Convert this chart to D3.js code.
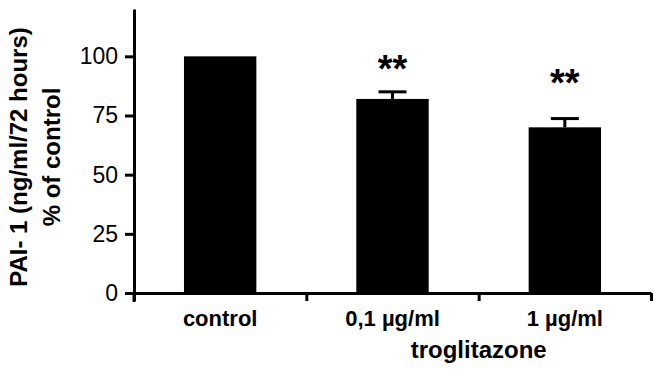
<!DOCTYPE html>
<html>
<head>
<meta charset="utf-8">
<script src="https://cdn.jsdelivr.net/npm/d3@7"></script>
<style>
  body { margin: 0; background: #fff; }
  svg { display: block; }
  text { font-family: "Liberation Sans", Arial, Helvetica, sans-serif; fill: #000; }
</style>
</head>
<body>
<div id="chart"></div>
<script>
// values
const categories = ['control', '0,1 µg/ml', '1 µg/ml'];
const means = [100, 82, 70];
const errors = [0, 3, 3.7];
const stars = ['', '**', '**'];
const starLevels = [0, 93, 87];
const yTicks = [0, 25, 50, 75, 100];

const width = 653;
const height = 376;
const margin = { top: 9, right: 2, bottom: 83, left: 134 };

const svg = d3.select('#chart').append('svg')
  .attr('width', width)
  .attr('height', height);

const x = d3.scaleBand()
  .domain(categories)
  .range([margin.left, width - margin.right])
  .paddingInner(0.58)
  .paddingOuter(0.29);

const xEdges = d3.scaleLinear()
  .domain([0, categories.length])
  .range([margin.left, width - margin.right]);

const y = d3.scaleLinear()
  .domain([0, 120])
  .range([height - margin.bottom, margin.top]);

// bars
svg.append('g')
  .selectAll('rect')
  .data(means)
  .enter()
  .append('rect')
  .attr('x', (d, i) => x(categories[i]))
  .attr('y', d => y(d))
  .attr('width', x.bandwidth())
  .attr('height', d => y(0) - y(d))
  .attr('fill', '#000');

// error bars (upper only)
const err = svg.append('g').attr('stroke', '#000').attr('stroke-width', 3);
means.forEach((m, i) => {
  if (!errors[i]) return;
  const cx = x(categories[i]) + x.bandwidth() / 2;
  err.append('line')
    .attr('x1', cx).attr('x2', cx)
    .attr('y1', y(m)).attr('y2', y(m + errors[i]));
  err.append('line')
    .attr('x1', cx - 14).attr('x2', cx + 14)
    .attr('y1', y(m + errors[i])).attr('y2', y(m + errors[i]));
});

// significance stars
svg.append('g')
  .selectAll('text')
  .data(stars)
  .enter()
  .append('text')
  .attr('x', (d, i) => x(categories[i]) + x.bandwidth() / 2)
  .attr('y', (d, i) => y(starLevels[i]) + 9)
  .attr('text-anchor', 'middle')
  .attr('font-size', 38)
  .attr('font-weight', 'bold')
  .text(d => d);

// y axis
const yAxis = svg.append('g')
  .attr('transform', 'translate(' + margin.left + ',0)')
  .call(d3.axisLeft(y).tickValues(yTicks).tickSize(9).tickSizeOuter(0).tickPadding(7));
yAxis.select('.domain').attr('stroke-width', 3);
yAxis.selectAll('.tick line').attr('stroke-width', 3);
yAxis.selectAll('.tick text').attr('font-size', 23).attr('font-family', null);

// extend y axis below the x axis
svg.append('line')
  .attr('x1', margin.left).attr('x2', margin.left)
  .attr('y1', y(0)).attr('y2', y(0) + 9)
  .attr('stroke', '#000').attr('stroke-width', 3);

// x axis: boundary ticks
const xAxis = svg.append('g')
  .attr('transform', 'translate(0,' + y(0) + ')')
  .call(d3.axisBottom(xEdges).tickValues(d3.range(categories.length + 1)).tickFormat('').tickSize(8).tickSizeOuter(0));
xAxis.select('.domain').attr('stroke-width', 3);
xAxis.selectAll('.tick line').attr('stroke-width', 3);

// x category labels
const xLabels = svg.append('g')
  .attr('transform', 'translate(0,' + y(0) + ')')
  .call(d3.axisBottom(x).tickSize(0).tickPadding(17));
xLabels.select('.domain').remove();
xLabels.selectAll('.tick text')
  .attr('font-size', 22)
  .attr('font-weight', 'bold')
  .attr('font-family', null);

// x title
svg.append('text')
  .attr('x', xEdges(2))
  .attr('y', 358)
  .attr('text-anchor', 'middle')
  .attr('font-size', 24)
  .attr('font-weight', 'bold')
  .text('troglitazone');

// y title
const yTitle = svg.append('text')
  .attr('transform', 'translate(0,157) rotate(-90)')
  .attr('text-anchor', 'middle')
  .attr('font-size', 24)
  .attr('font-weight', 'bold');
yTitle.append('tspan').attr('x', 0).attr('y', 27).text('PAI- 1 (ng/ml/72 hours)');
yTitle.append('tspan').attr('x', 0).attr('y', 60).text('% of control');
</script>
</body>
</html>
